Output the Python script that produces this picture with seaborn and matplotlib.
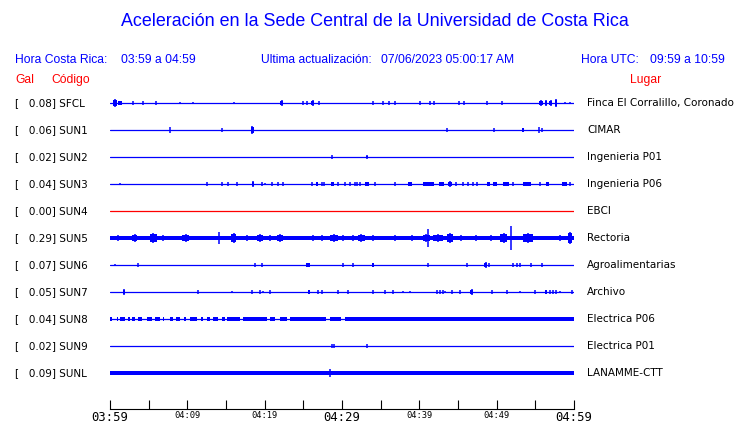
import matplotlib
matplotlib.use("Agg")
import matplotlib.pyplot as plt
import seaborn as sns
import pandas as pd

# stations, peak acceleration (Gal) and place names
stations = ["SFCL", "SUN1", "SUN2", "SUN3", "SUN4", "SUN5", "SUN6", "SUN7", "SUN8", "SUN9", "SUNL"]
gal = [0.08, 0.06, 0.02, 0.04, 0.00, 0.29, 0.07, 0.05, 0.04, 0.02, 0.09]
places = ["Finca El Corralillo, Coronado", "CIMAR", "Ingenieria P01", "Ingenieria P06", "EBCI",
          "Rectoria", "Agroalimentarias", "Archivo", "Electrica P06", "Electrica P01", "LANAMME-CTT"]
no_data = ["SUN4"]

window_min = 60  # 03:59 -> 04:59
tick_labels = ["03:59", "04:09", "04:19", "04:29", "04:39", "04:49", "04:59"]

# spikes: (minute, relative amplitude, duration in minutes)
sfcl_spikes = [(0.65, 0.15, 0.4), (1.3, 0.08, 0.5), (3.0, 0.08, 0.2), (4.3, 0.06, 0.13), (5.9, 0.07, 0.13),
               (9.1, 0.05, 0.13), (10.7, 0.05, 0.13), (16.0, 0.05, 0.13), (22.2, 0.1, 0.4), (25.0, 0.08, 0.2),
               (25.5, 0.06, 0.13), (26.2, 0.1, 0.3), (27.0, 0.06, 0.13), (34.0, 0.06, 0.13), (35.3, 0.06, 0.13),
               (36.1, 0.08, 0.2), (36.9, 0.07, 0.13), (40.1, 0.06, 0.13), (41.4, 0.06, 0.13), (41.9, 0.06, 0.13),
               (45.1, 0.06, 0.13), (45.8, 0.07, 0.2), (48.7, 0.06, 0.13), (50.7, 0.06, 0.13), (55.7, 0.11, 0.5),
               (56.4, 0.1, 0.3), (57.0, 0.1, 0.4), (57.7, 0.13, 0.3), (58.8, 0.05, 0.13), (59.5, 0.05, 0.13)]
sun1_spikes = [(7.8, 0.11, 0.13), (14.5, 0.06, 0.13), (18.4, 0.13, 0.4), (43.6, 0.08, 0.13), (49.7, 0.07, 0.13),
               (53.4, 0.09, 0.3), (55.5, 0.11, 0.2), (55.8, 0.07, 0.2)]
sun2_spikes = [(28.7, 0.07, 0.13), (33.2, 0.06, 0.25)]
sun3_spikes = [(1.3, 0.04, 0.13), (12.5, 0.07, 0.13), (14.5, 0.06, 0.13), (15.3, 0.07, 0.13), (16.4, 0.07, 0.13),
               (18.5, 0.1, 0.3), (19.7, 0.06, 0.13), (20.0, 0.05, 0.13), (20.9, 0.06, 0.13), (21.7, 0.07, 0.13),
               (22.4, 0.06, 0.13), (26.1, 0.06, 0.13), (26.8, 0.09, 0.3), (27.4, 0.07, 0.13), (27.7, 0.06, 0.13),
               (28.8, 0.09, 0.4), (29.5, 0.06, 0.13), (30.4, 0.07, 0.13), (31.0, 0.06, 0.13), (31.7, 0.07, 0.13),
               (31.9, 0.06, 0.13), (32.3, 0.07, 0.13), (33.2, 0.09, 0.5), (34.3, 0.06, 0.13), (36.9, 0.06, 0.13),
               (38.8, 0.09, 0.6), (41.2, 0.09, 1.5), (42.9, 0.08, 0.6), (44.0, 0.1, 0.5), (44.7, 0.06, 0.13),
               (45.6, 0.06, 0.13), (46.3, 0.06, 0.13), (46.9, 0.07, 0.13), (47.5, 0.06, 0.13), (48.9, 0.08, 0.4),
               (49.8, 0.08, 0.6), (51.2, 0.09, 0.8), (52.1, 0.06, 0.13), (53.9, 0.08, 1.1), (55.6, 0.06, 0.13),
               (56.6, 0.07, 0.4), (58.8, 0.08, 0.6), (59.5, 0.06, 0.13)]
sun4_spikes = []
sun5_spikes = [(1.0, 0.11, 0.5), (3.2, 0.15, 0.6), (5.6, 0.19, 0.9), (6.9, 0.11, 0.3), (9.8, 0.15, 0.9),
               (11.0, 0.08, 0.2), (12.3, 0.08, 0.2), (14.1, 0.22, 0.13), (16.0, 0.19, 0.6), (17.7, 0.11, 1.2),
               (19.4, 0.15, 0.8), (20.7, 0.11, 0.8), (22.0, 0.15, 0.8), (25.2, 0.08, 0.2), (26.2, 0.11, 0.3),
               (27.4, 0.11, 0.3), (29.0, 0.15, 1.0), (30.1, 0.11, 0.8), (31.4, 0.11, 0.4), (32.5, 0.15, 0.9),
               (34.0, 0.11, 0.2), (36.9, 0.11, 0.2), (39.0, 0.11, 0.3), (40.9, 0.15, 0.9), (41.1, 0.35, 0.2),
               (42.4, 0.15, 1.3), (44.0, 0.19, 0.8), (45.4, 0.11, 0.4), (47.3, 0.11, 1.6), (49.3, 0.11, 0.4),
               (50.9, 0.19, 1.0), (51.8, 0.44, 0.2), (54.0, 0.19, 1.3), (58.2, 0.11, 0.3), (59.5, 0.22, 0.5)]
sun6_spikes = [(0.65, 0.04, 0.13), (3.6, 0.07, 0.13), (18.7, 0.07, 0.13), (19.7, 0.06, 0.13), (25.6, 0.08, 0.4),
               (30.1, 0.06, 0.13), (31.4, 0.06, 0.13), (34.0, 0.08, 0.3), (41.1, 0.06, 0.13), (46.2, 0.06, 0.13),
               (48.6, 0.1, 0.4), (49.0, 0.07, 0.13), (52.1, 0.06, 0.13), (52.6, 0.06, 0.13), (53.0, 0.06, 0.13),
               (54.4, 0.06, 0.13), (55.9, 0.06, 0.13)]
sun7_spikes = [(1.8, 0.11, 0.3), (11.4, 0.07, 0.2), (15.8, 0.05, 0.13), (18.4, 0.06, 0.13), (19.4, 0.06, 0.13),
               (19.8, 0.05, 0.13), (20.7, 0.07, 0.2), (25.7, 0.07, 0.3), (26.9, 0.06, 0.13), (27.4, 0.07, 0.13),
               (29.5, 0.06, 0.13), (30.8, 0.06, 0.13), (34.0, 0.06, 0.13), (35.6, 0.06, 0.13), (36.6, 0.07, 0.2),
               (37.9, 0.05, 0.13), (38.8, 0.05, 0.13), (42.3, 0.06, 0.13), (42.7, 0.06, 0.13), (43.1, 0.06, 0.13),
               (43.3, 0.05, 0.13), (44.2, 0.06, 0.13), (45.3, 0.06, 0.13), (46.8, 0.11, 0.4), (49.4, 0.06, 0.13),
               (51.3, 0.06, 0.13), (53.0, 0.05, 0.13), (55.0, 0.06, 0.13), (56.4, 0.07, 0.3), (56.9, 0.07, 0.13),
               (57.3, 0.06, 0.13), (57.7, 0.07, 0.13), (58.2, 0.05, 0.13), (59.7, 0.06, 0.13)]
sun8_spikes = [(41.1, 0.08, 0.13), (53.5, 0.07, 0.13)]
sun9_spikes = [(28.7, 0.06, 0.13), (29.0, 0.06, 0.13), (33.2, 0.06, 0.2)]
sunl_spikes = [(28.4, 0.15, 0.13), (33.6, 0.09, 0.13)]

# continuous noise bands: (start minute, end minute)
sun5_band = [(0.0, 60.0)]
sun8_band = [(0.0, 0.26), (0.85, 1.05), (1.3, 1.9), (2.3, 2.6), (2.8, 3.2), (3.6, 4.1), (4.8, 5.4), (5.8, 6.5),
             (6.85, 7.0), (7.8, 8.1), (8.5, 9.1), (9.6, 9.8), (10.3, 11.2), (11.8, 12.0), (12.5, 12.9),
             (13.3, 14.0), (14.5, 14.9), (15.1, 16.8), (17.2, 20.3), (20.7, 21.3), (22.0, 22.9), (23.3, 27.9),
             (28.4, 29.9), (30.4, 60.0)]
sunl_band = [(0.0, 60.0)]

spikes = [sfcl_spikes, sun1_spikes, sun2_spikes, sun3_spikes, sun4_spikes, sun5_spikes,
          sun6_spikes, sun7_spikes, sun8_spikes, sun9_spikes, sunl_spikes]
bands = {"SUN5": (sun5_band, 0.085), "SUN8": (sun8_band, 0.065), "SUNL": (sunl_band, 0.06)}

BLUE = "#0000ff"
RED = "#ff0000"

sns.set_theme(style="white")
plt.rcParams["font.family"] = ["DejaVu Sans"]

fig = plt.figure(figsize=(7.4, 4.23), dpi=100)
ax = fig.add_axes([110 / 740, 1 - 409 / 423, 464 / 740, (409 - 90) / 423])

rows = [-i for i in range(len(stations))]

# baselines
base = pd.DataFrame({
    "minute": [0, window_min] * len(stations),
    "row": [r for r in rows for _ in range(2)],
    "station": [s for s in stations for _ in range(2)],
})
pal = {s: (RED if s in no_data else BLUE) for s in stations}
sns.lineplot(data=base, x="minute", y="row", hue="station", units="station", estimator=None,
             palette=pal, linewidth=0.9, legend=False, ax=ax)

for st, row, ev in zip(stations, rows, spikes):
    if st in bands:
        segs, half = bands[st]
        ax.broken_barh([(a, b - a) for a, b in segs], (row - half, 2 * half), color=BLUE, linewidth=0)
    if not ev:
        continue
    xs = [e[0] for e in ev]
    amps = [e[1] for e in ev]
    # burst body: wider block a bit below the peak
    wide = [(x, a, d) for x, a, d in ev if d > 0.2]
    if wide:
        ax.bar([w[0] for w in wide], [1.6 * w[1] for w in wide], bottom=[row - 0.8 * w[1] for w in wide],
               width=[w[2] for w in wide], color=BLUE, linewidth=0, align="center")
    # peak spike
    ax.vlines(xs, [row - a for a in amps], [row + a for a in amps], color=BLUE, linewidth=1.1)

ax.set_xlim(0, window_min)
ax.set_ylim(-10 - 36 / 27, 13 / 27)
ax.set_xlabel("")
ax.set_ylabel("")
ax.set_yticks([])

# time axis
ax.set_xticks(range(0, window_min + 1, 5))
labels = []
for t in range(0, window_min + 1, 5):
    labels.append(tick_labels[t // 10] if t % 10 == 0 else "")
ax.set_xticklabels(labels, family="DejaVu Sans Mono")
for t, lab in zip(range(0, window_min + 1, 5), ax.get_xticklabels()):
    lab.set_fontsize(8.8 if t % 30 == 0 else 6.3)
ax.tick_params(axis="x", bottom=True, direction="in", length=6.8, width=0.8, color="black",
               pad=1.5, labelcolor="black")
for side in ["left", "right", "top"]:
    ax.spines[side].set_visible(False)
ax.spines["bottom"].set_color("black")
ax.spines["bottom"].set_linewidth(0.8)

# row labels
for st, g, pl, row in zip(stations, gal, places, rows):
    ax.text((15 - 110) / 464, row, f"[{g:7.2f}] {st}", transform=ax.get_yaxis_transform(),
            ha="left", va="center", fontsize=7.5, color="black", clip_on=False)
    ax.text((587 - 110) / 464, row, pl, transform=ax.get_yaxis_transform(),
            ha="left", va="center", fontsize=7.5, color="black", clip_on=False)

# header
hf = "Liberation Sans"
fig.text(375 / 740, 1 - 22 / 423, "Aceleración en la Sede Central de la Universidad de Costa Rica",
         ha="center", va="center", fontsize=12.9, color=BLUE, family=hf)
y1 = 1 - 60 / 423
fs = 8.7
fig.text(15 / 740, y1, "Hora Costa Rica:", ha="left", va="center", fontsize=fs, color=BLUE, family=hf)
fig.text(121 / 740, y1, "03:59 a 04:59", ha="left", va="center", fontsize=fs, color=BLUE, family=hf)
fig.text(261 / 740, y1, "Ultima actualización:", ha="left", va="center", fontsize=fs, color=BLUE, family=hf)
fig.text(381 / 740, y1, "07/06/2023 05:00:17 AM", ha="left", va="center", fontsize=fs, color=BLUE, family=hf)
fig.text(581 / 740, y1, "Hora UTC:", ha="left", va="center", fontsize=fs, color=BLUE, family=hf)
fig.text(725 / 740, y1, "09:59 a 10:59", ha="right", va="center", fontsize=fs, color=BLUE, family=hf)
y2 = 1 - 80 / 423
fig.text(15 / 740, y2, "Gal", ha="left", va="center", fontsize=fs, color=RED, family=hf)
fig.text(51 / 740, y2, "Código", ha="left", va="center", fontsize=fs, color=RED, family=hf)
fig.text(661 / 740, y2, "Lugar", ha="right", va="center", fontsize=fs, color=RED, family=hf)

fig.savefig("out.png", dpi=100, facecolor="white")
